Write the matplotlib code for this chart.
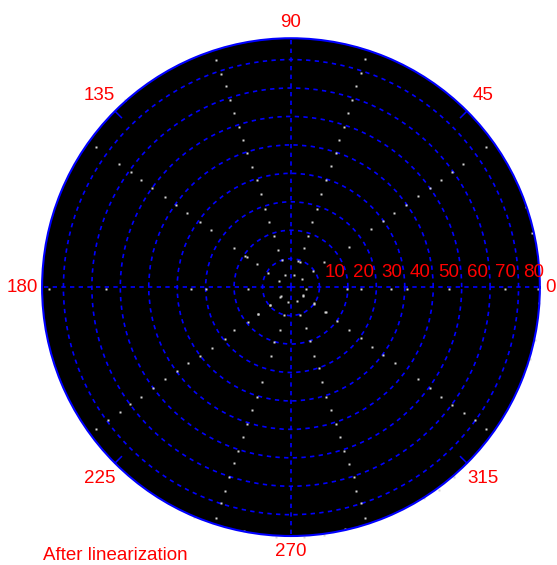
#polar scatter of calibration points after linearization

import numpy as np
import matplotlib.pyplot as plt

plt.rcParams['font.family'] = ['Liberation Sans', 'DejaVu Sans']

# point positions (x, y) in radial units
x_pts = [-26.2, 26.2, -24.6, 24.5, -22.8, 22.8, -58.3, -21.5, 21.3, -20.2, 20.1,
         -18.4, 18.5, -17.0, 17.0, -68.5, 68.4, -15.5, 15.7, -60.4, 60.4, -13.7, 13.9,
         -56.4, 56.6, -52.7, 52.8, -12.1, 12.2, -48.7, 48.8, -10.6, 10.7, -44.4, 44.7,
         -40.4, 40.6, -9.0, 9.1, -36.5, 36.3, -32.1, 32.5, -7.7, 7.5, -28.0, 28.2,
         -6.1, 6.0, -19.9, 20.3, -15.6, -4.4, 4.5, 3.2, 82.5, 84.6,
         -85.1, -65.2, -35.0, -30.0, -15.0, 5.2, 19.6, 24.6, 35.0, 40.7, 55.6, 75.2, 86.7,
         -4.0, 4.1, -7.5, 8.2, -11.5, 12.2, -2.4, 3.2, -15.2, 16.2, -19.9, 20.3,
         -4.0, 5.4, -23.3, 24.5, -5.9, 6.6, -27.7, 28.5, -32.1, 32.5, -6.9, 8.1,
         -36.1, 36.6, 9.7, -40.2, -44.3, 44.7, -10.2, 11.0, -48.6, 48.8, -52.7, 52.8,
         -12.1, 12.2, -56.7, 56.6, -13.6, 14.1, -60.2, 60.7, -64.5, 64.7, -15.6, 15.7,
         -68.5, 68.7, -16.9, 17.2, -18.6, 18.7, -19.9, 20.3, -21.7, 22.0, -23.1, 22.8,
         -24.6, 24.7, -26.5, 26.2,
         87.1, 85.9, 84.0, 57.2, 52.2, 46.6, 19.1, 11.6, 4.7, -5.2, -16.5, -34.0,
         -2.1, 1.2, 3.7, -4.2, -8.2, -3.3, 2.6, -3.5, 4.1, -1.2, 2.0, -7.4, 8.1,
         -12.1, 7.6, 11.7, -11.7, 11.9, -16.2]
y_pts = [80.0, 80.2, 75.1, 75.4, 70.6, 70.6, 65.7, 65.7, 65.7, 61.2, 61.2,
         56.3, 56.3, 51.6, 51.6, 49.3, 49.3, 47.2, 47.2, 43.4, 43.4, 42.3, 42.5,
         40.5, 40.5, 37.8, 37.8, 37.6, 37.6, 34.7, 34.7, 32.7, 32.7, 31.7, 32.0,
         28.8, 28.8, 27.6, 27.6, 25.9, 26.1, 23.0, 23.2, 23.0, 23.0, 20.0, 20.3,
         18.0, 18.0, 13.9, 14.2, 10.7, 13.2, 13.6, 8.9, 28.2, 18.9,
         -0.5, -0.5, -0.5, -0.5, -0.5, -0.5, -0.5, -0.5, -0.5, -0.5, -0.5, -0.5, -0.5,
         -3.4, -3.2, -6.3, -6.0, -9.5, -8.9, -9.8, -9.8, -12.2, -11.8, -15.1, -15.1,
         -14.9, -14.5, -18.3, -18.0, -19.2, -19.0, -21.3, -21.0, -24.1, -23.9, -24.1, -24.1,
         -26.8, -26.8, -28.6, -29.5, -32.4, -32.4, -33.5, -33.5, -35.4, -35.4, -38.5, -38.5,
         -38.5, -38.5, -41.2, -41.5, -43.2, -43.2, -44.0, -44.4, -46.7, -46.7, -48.1, -48.1,
         -50.0, -50.0, -52.6, -52.8, -57.5, -57.5, -61.9, -62.2, -66.6, -66.6, -71.5, -71.5,
         -76.0, -75.8, -81.3, -81.3,
         -5.7, -18.6, -25.1, -66.6, -71.3, -74.2, -85.1, -87.1, -87.7, -87.7, -85.9, -80.9,
         4.1, 4.2, 2.7, 2.3, 5.0, 9.4, 9.1, -3.2, -2.8, -5.3, -4.9, -6.2, -5.7,
         8.2, 5.6, 8.8, -9.3, -8.7, 11.1]

ring_vals = [10, 20, 30, 40, 50, 60, 70, 80]
angle_labels = [0, 45, 90, 135, 180, 225, 270, 315]
r_max = 87.5

theta = np.arctan2(y_pts, x_pts)
r = np.hypot(x_pts, y_pts)

fig = plt.figure(figsize=(5.57, 5.65), dpi=100)
ax = fig.add_axes([0.0754, 0.0513, 0.894, 0.881], projection='polar')
ax.set_facecolor('black')
ax.set_ylim(0, r_max)

ax.plot(theta, r, 's', color='#d4d4d4', ms=2.1, mec='none', clip_on=False)

# grid
ax.set_rgrids(ring_vals, labels=[''] * len(ring_vals))
ax.set_thetagrids([0, 90, 180, 270], labels=[''] * 4)
ax.grid(True, color='#0000ff', linestyle=(0, (2.6, 2.6)), linewidth=1.2)
ax.spines['polar'].set_color('#0000ff')
ax.spines['polar'].set_linewidth(1.5)
ax.tick_params(length=0)

# short ticks at the diagonals
for a in [45, 135, 225, 315]:
    t = np.deg2rad(a)
    ax.plot([t, t], [r_max - 3.2, r_max], color='#0000ff', lw=1.1)

# angle labels
lab_pos = {0: (89.5, 'left', 'center'), 90: (90.0, 'center', 'bottom'),
           180: (89.0, 'right', 'center'), 270: (90.0, 'center', 'top')}
for a in angle_labels:
    rr, ha, va = lab_pos.get(a, (95.3, 'center', 'center'))
    ax.text(np.deg2rad(a), rr, str(a), color='#ff0000', fontsize=13.5,
            ha=ha, va=va, clip_on=False)

# radius labels along 0 deg
for v in ring_vals:
    ax.annotate(str(v), xy=(0, v), xytext=(3.5, 4.5), textcoords='offset points',
                color='#ff0000', fontsize=13.5, ha='left', va='bottom',
                annotation_clip=False)

fig.text(43 / 557, 1 - 555 / 565, 'After linearization', color='#ff0000',
         fontsize=13.5, ha='left', va='center')

plt.savefig('out.png', dpi=100)
